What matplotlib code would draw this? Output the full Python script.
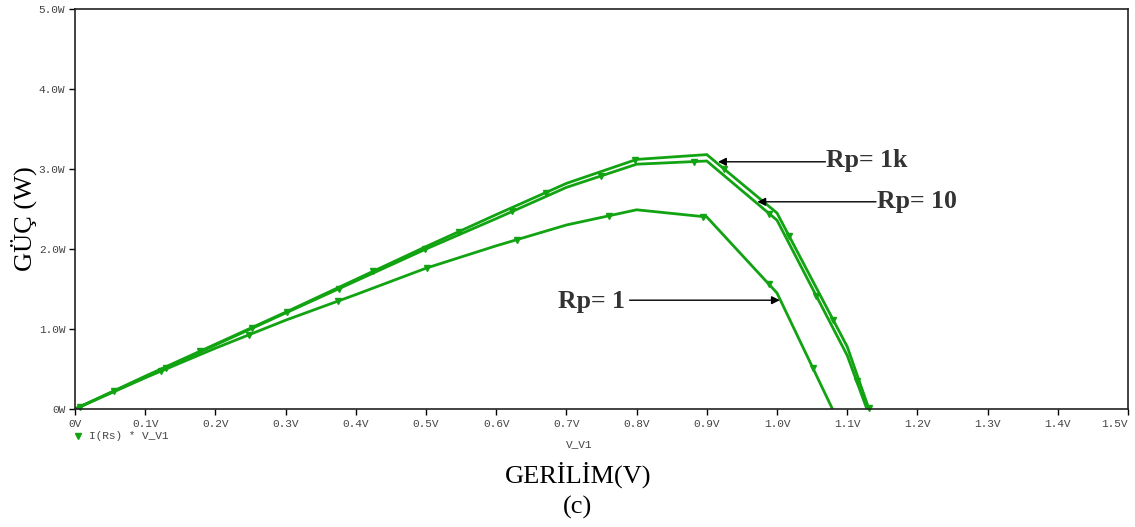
import matplotlib
matplotlib.use("Agg")
import numpy as np
import matplotlib.pyplot as plt
from matplotlib.lines import Line2D

# ---- data ----
v_1k = [0, 0.1, 0.2, 0.3, 0.4, 0.5, 0.6, 0.7, 0.8, 0.9, 1.0, 1.1, 1.131]
p_1k = [0, 0.41, 0.81, 1.21, 1.62, 2.03, 2.43, 2.82, 3.12, 3.18, 2.45, 0.78, 0]

v_10 = [0, 0.1, 0.2, 0.3, 0.4, 0.5, 0.6, 0.7, 0.8, 0.9, 1.0, 1.1, 1.128]
p_10 = [0, 0.40, 0.80, 1.20, 1.60, 2.00, 2.38, 2.77, 3.06, 3.10, 2.36, 0.67, 0]

v_1 = [0, 0.1, 0.2, 0.3, 0.4, 0.5, 0.6, 0.7, 0.8, 0.9, 1.0, 1.079]
p_1 = [0, 0.39, 0.76, 1.11, 1.43, 1.76, 2.04, 2.30, 2.49, 2.40, 1.45, 0]

x_ticks = [0, 0.1, 0.2, 0.3, 0.4, 0.5, 0.6, 0.7, 0.8, 0.9, 1.0, 1.1, 1.2, 1.3, 1.4, 1.5]
x_tick_labels = ["0V", "0.1V", "0.2V", "0.3V", "0.4V", "0.5V", "0.6V", "0.7V",
                 "0.8V", "0.9V", "1.0V", "1.1V", "1.2V", "1.3V", "1.4V", "1.5V"]
y_ticks = [0, 1, 2, 3, 4, 5]
y_tick_labels = ["0W", "1.0W", "2.0W", "3.0W", "4.0W", "5.0W"]

labels = ["Rp= 1k", "Rp= 10", "Rp= 1"]

GREEN = "#12a312"
TICKC = "#444444"
MONO = "Liberation Mono"
SERIF = "Liberation Serif"

fig = plt.figure(figsize=(11.35, 5.27), dpi=100)
ax = fig.add_axes([75 / 1135, 1 - 409 / 527, (1128 - 75) / 1135, (409 - 9) / 527])
ax.set_xlim(0, 1.5)
ax.set_ylim(0, 5)


def draw_trace(v, p, start_px, step_px=95.0):
    ax.plot(v, p, color=GREEN, lw=2.0, solid_joinstyle="miter")
    # symbols spaced evenly along the drawn trace (in display space)
    pts = ax.transData.transform(np.column_stack([v, p]))
    seg = np.hypot(*np.diff(pts, axis=0).T)
    cum = np.concatenate([[0.0], np.cumsum(seg)])
    d = np.arange(start_px, cum[-1], step_px)
    disp = np.column_stack([np.interp(d, cum, pts[:, 0]), np.interp(d, cum, pts[:, 1])])
    mk = ax.transData.inverted().transform(disp)
    ax.plot(mk[:, 0], mk[:, 1], ls="none", marker="v", markersize=4.2,
            color=GREEN, clip_on=False)


draw_trace(v_1k, p_1k, 43)
draw_trace(v_10, p_10, 5)
draw_trace(v_1, p_1, 94)

ax.set_xticks(x_ticks)
ax.set_xticklabels(x_tick_labels)
ax.set_yticks(y_ticks)
ax.set_yticklabels(y_tick_labels)
ax.tick_params(direction="out", length=4, width=1, color="black",
               labelcolor=TICKC, labelsize=8, pad=3)
for lab in ax.get_xticklabels() + ax.get_yticklabels():
    lab.set_family(MONO)
ax.get_xticklabels()[-1].set_horizontalalignment("right")
for s in ax.spines.values():
    s.set_linewidth(1.2)
    s.set_color("#222222")

# annotations
arrow = dict(arrowstyle="-|>", color="black", lw=1.0, mutation_scale=12,
             shrinkA=0, shrinkB=0)
ax.annotate("", xy=(0.916, 3.09), xytext=(1.069, 3.09), arrowprops=arrow)
ax.text(1.070, 3.11, labels[0], family=SERIF, fontweight="bold", fontsize=18.5,
        color="#333333", ha="left", va="center")
ax.annotate("", xy=(0.972, 2.59), xytext=(1.141, 2.59), arrowprops=arrow)
ax.text(1.142, 2.59, labels[1], family=SERIF, fontweight="bold", fontsize=18.5,
        color="#333333", ha="left", va="center")
ax.annotate("", xy=(1.004, 1.36), xytext=(0.790, 1.36), arrowprops=arrow)
ax.text(0.784, 1.34, labels[2], family=SERIF, fontweight="bold", fontsize=18.5,
        color="#333333", ha="right", va="center")

# legend-like entry
fig.add_artist(Line2D([78 / 1135], [1 - 436 / 527], marker="v", markersize=4.2,
                      color=GREEN, ls="none", transform=fig.transFigure))
fig.text(89 / 1135, 1 - 436 / 527, "I(Rs) * V_V1", family=MONO, fontsize=8,
         color=TICKC, ha="left", va="center")
fig.text(579 / 1135, 1 - 444 / 527, "V_V1", family=MONO, fontsize=8,
         color=TICKC, ha="center", va="center")

# axis titles
fig.text(578 / 1135, 1 - 475 / 527, "GERİLİM(V)", family=SERIF, fontsize=19,
         ha="center", va="center", color="black")
fig.text(578 / 1135, 1 - 507 / 527, "(c)", family=SERIF, fontsize=19,
         ha="center", va="center", color="black")
fig.text(24 / 1135, 1 - 219 / 527, "GÜÇ (W)", family=SERIF, fontsize=19,
         rotation=90, ha="center", va="center", color="black")

fig.savefig("out.png", dpi=100)
